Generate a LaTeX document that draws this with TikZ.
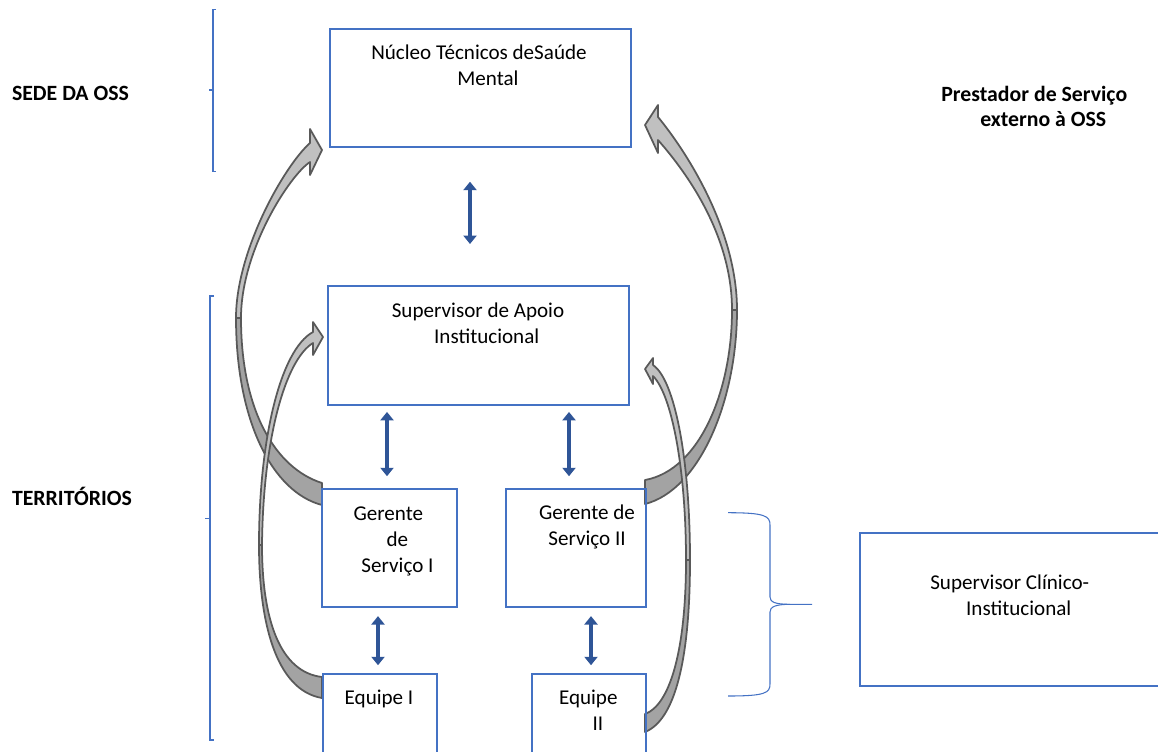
\documentclass[tikz,border=0pt]{standalone}
\usepackage{fontspec}
\setmainfont{Carlito}
\usetikzlibrary{arrows.meta}

\definecolor{ossblue}{HTML}{4472C4}
\definecolor{arrblue}{HTML}{2F5597}
\definecolor{bandlight}{HTML}{C0C0C0}
\definecolor{banddark}{HTML}{A3A3A3}
\definecolor{bandline}{HTML}{595959}

\tikzset{
  box/.style={draw=ossblue, line width=1.1pt, inner sep=0pt, anchor=north west},
  txt/.style={align=center, anchor=base, inner sep=0pt, font=\fontsize{12pt}{14.74pt}\selectfont},
  btxt/.style={txt, font=\fontsize{12.4pt}{14.2pt}\selectfont\bfseries},
  lbl/.style={anchor=base west, inner sep=0pt, font=\fontsize{12.4pt}{14.2pt}\selectfont\bfseries},
  dbl/.style={draw=arrblue, line width=2.8pt, <->},
  band/.style={draw=bandline, line width=1pt, line join=round},
  brk/.style={draw=ossblue, line width=0.6pt},
}

\begin{document}
\begin{tikzpicture}[x=0.02cm, y=-0.02cm, >={Triangle[length=4.8pt,width=7.4pt]}]
  % 1. grey curved arrows (behind)
  % 2. boxes with their texts
  % 3. blue double arrows, brackets and side labels
  \useasboundingbox (0,0) rectangle (1158,751);

  % big arrow, left
  \filldraw[band, fill=banddark] (322,483) .. controls (275,468) and (241,410) .. (241,318)
    -- (236,318) .. controls (236,420) and (272,492) .. (322,505) -- cycle;
  \filldraw[band, fill=bandlight] (236,318) .. controls (236,250) and (285,165) .. (310,143)
    -- (310,129) -- (322,150) -- (310,175) -- (310,162)
    .. controls (290,175) and (241,250) .. (241,318) -- cycle;
  % big arrow, right
  \filldraw[band, fill=banddark] (645,480) .. controls (700,470) and (732,390) .. (732,310)
    -- (737,310) .. controls (737,400) and (700,490) .. (645,504) -- cycle;
  \filldraw[band, fill=bandlight] (737,310) .. controls (737,230) and (686.5,151.6) .. (658,117)
    -- (658,105) -- (645,125) -- (658,153) -- (658,140)
    .. controls (680,165) and (732,230) .. (732,310) -- cycle;
  % small arrow, left
  \filldraw[band, fill=banddark] (322,677) .. controls (280,672) and (262,620) .. (262,545)
    -- (259,545) .. controls (259,620) and (275,690) .. (322,698) -- cycle;
  \filldraw[band, fill=bandlight] (259,545) .. controls (259,440) and (280,350) .. (313,332)
    -- (313,322) -- (323,337) -- (313,355) -- (313,343)
    .. controls (285,360) and (263,440) .. (262,545) -- cycle;
  % small arrow, right
  \filldraw[band, fill=banddark] (645,714) .. controls (670,705) and (686,650) .. (686,560)
    -- (690,560) .. controls (690,660) and (675,720) .. (645,732) -- cycle;
  \filldraw[band, fill=bandlight] (690,560) .. controls (690,460) and (675,380) .. (653,365)
    -- (653,358) -- (645,369) -- (653,384) -- (653,376)
    .. controls (672,395) and (686,470) .. (686,560) -- cycle;

  \node[box, minimum width=6.02cm, minimum height=2.35cm] (nucleo) at (329,28.3) {};
  \node[box, minimum width=6.02cm, minimum height=2.38cm] (apoio) at (327,285) {};
  \node[box, minimum width=2.70cm, minimum height=2.37cm] (gerente1) at (321,487.7) {};
  \node[box, minimum width=2.80cm, minimum height=2.37cm] (gerente2) at (505,487.7) {};
  \node[box, minimum width=2.29cm, minimum height=1.90cm] (equipe1) at (321.7,672.7) {};
  \node[box, minimum width=2.28cm, minimum height=1.90cm] (equipe2) at (531,672.7) {};
  \node[box, minimum width=6.10cm, minimum height=3.07cm] (clinico) at (859.3,531.7) {};

  % base anchor = last line
  \node[txt] (nucleotxt) at (479,85) {Núcleo Técnicos deSaúde\\\hspace*{10.2pt}Mental};
  \node[txt] (apoiotxt) at (478,343.3) {Supervisor de Apoio\\\hspace*{9.9pt}Institucional};
  \node[txt] (gerente1txt) at (388.3,572.3) {Gerente\\\hspace*{10.4pt}de\\\hspace*{10.4pt}Serviço I};
  \node[txt] (gerente2txt) at (587,545.7) {Gerente de\\Serviço II};
  \node[txt] (equipe1txt) at (379,704.3) {Equipe I};
  \node[txt] (equipe2txt) at (588.3,730.7) {Equipe\\\hspace*{11pt}II};
  \node[txt] (clinicotxt) at (1009.7,615) {Supervisor Clínico-\\\hspace*{10.3pt}Institucional};

  \draw[dbl, shorten <=0.68cm, shorten >=0.82cm] (470,0 |- nucleo.south) -- (470,0 |- apoio.north);
  \draw[dbl, shorten <=0.12cm, shorten >=0.23cm] (387,0 |- apoio.south) -- (387,0 |- gerente1.north);
  \draw[dbl, shorten <=0.12cm, shorten >=0.23cm] (569,0 |- apoio.south) -- (569,0 |- gerente2.north);
  \draw[dbl, shorten <=0.16cm, shorten >=0.15cm] (378,0 |- gerente1.south) -- (378,0 |- equipe1.north);
  \draw[dbl, shorten <=0.16cm, shorten >=0.15cm] (591,0 |- gerente2.south) -- (591,0 |- equipe2.north);

  % brackets
  \draw[brk] (216,9.3) -- (213,9.3) -- (213,171.7) -- (216,171.7);
  \draw[brk] (213,90) -- (209,90);
  \draw[brk] (214,296) -- (210,296) -- (210,740) -- (214,740);
  \draw[brk] (210,518.3) -- (205,518.3);
  \draw[brk] (728,512.7) .. controls (765,512.7) and (770,516) .. (770,525) -- (770,597)
    .. controls (770,602) and (775,604.3) .. (790,604.3) -- (812,604.3);
  \draw[brk] (790,604.3) .. controls (775,604.3) and (770,607) .. (770,612) -- (770,684)
    .. controls (770,693) and (765,696) .. (728,696);

  \node[lbl] (sede) at (11.7,100.7) {SEDE DA OSS};
  \node[lbl] (territorios) at (11.7,505.7) {TERRITÓRIOS};
  \node[btxt] (prestador) at (1034.3,126.7) {Prestador de Serviço\\\hspace*{10.2pt}externo à OSS};
\end{tikzpicture}
\end{document}
